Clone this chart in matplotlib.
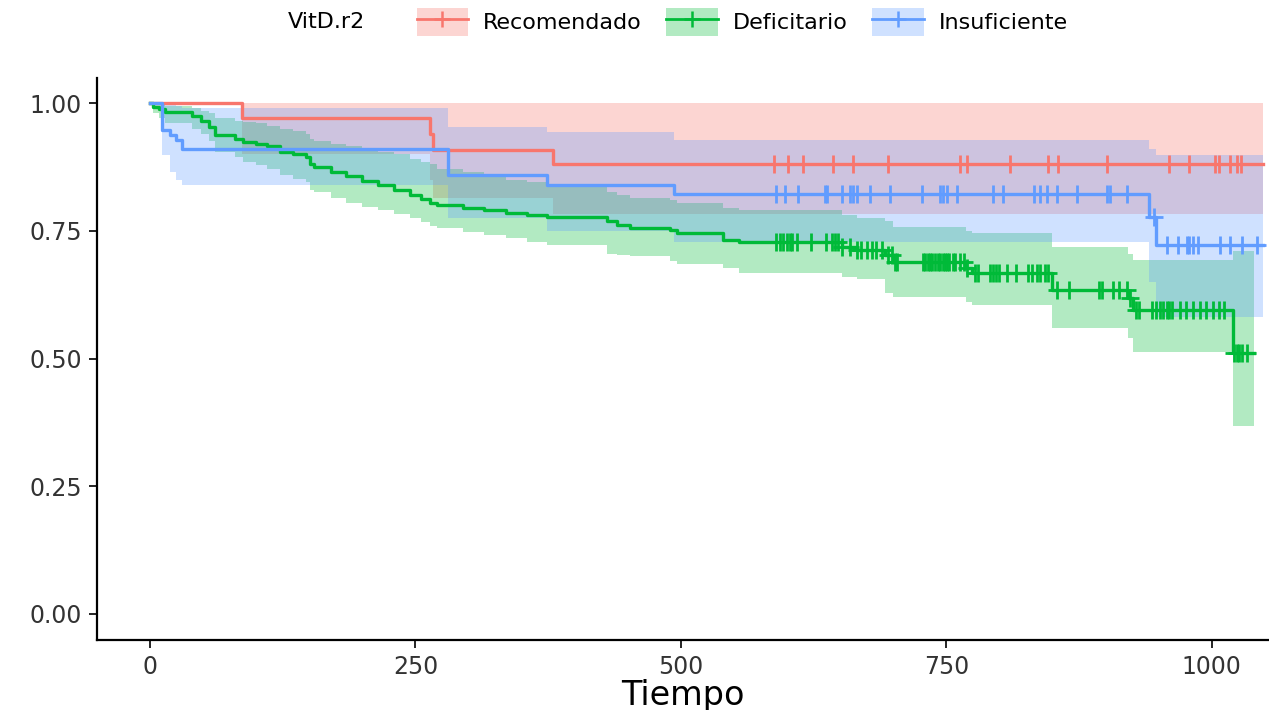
import numpy as np
import matplotlib
matplotlib.use("Agg")
import matplotlib.pyplot as plt
from matplotlib.patches import Patch
from matplotlib.lines import Line2D
from matplotlib.legend_handler import HandlerTuple

plt.rcParams['font.family'] = ['DejaVu Sans']

groups = ['Recomendado', 'Deficitario', 'Insuficiente']
colors = ['#F8766D', '#00BA38', '#619CFF']

# Recomendado
t_rec = [0, 87, 264, 267, 380]
s_rec = [1.0, 0.971, 0.94, 0.909, 0.880]
up_rec = [1.0, 1.0, 1.0, 1.0, 1.0]
lo_rec = [1.0, 0.90, 0.85, 0.815, 0.782]
cens_rec = [588, 601, 615, 643, 662, 695, 763, 770, 810, 846, 855, 901,
            960, 979, 1003, 1007, 1017, 1024, 1028]
end_rec = 1048

# Deficitario
t_def = [0, 3, 8, 14, 40, 48, 56, 61, 80, 88,
         100, 110, 122, 135, 147, 151, 154, 170, 185, 200,
         215, 230, 245, 255, 264, 270, 295, 315, 335, 355,
         374, 430, 440, 452, 490, 496, 540, 555, 652, 666,
         692, 700, 769, 774, 850, 921, 926, 1020]
s_def = [1.0, 0.993, 0.988, 0.983, 0.975, 0.965, 0.954, 0.937, 0.93, 0.924,
         0.92, 0.915, 0.905, 0.90, 0.895, 0.88, 0.875, 0.866, 0.857, 0.848,
         0.839, 0.83, 0.82, 0.812, 0.804, 0.80, 0.795, 0.79, 0.785, 0.78,
         0.777, 0.77, 0.762, 0.755, 0.751, 0.745, 0.732, 0.728, 0.718, 0.712,
         0.703, 0.689, 0.677, 0.668, 0.634, 0.618, 0.595, 0.51]
up_def = [1.0, 1.0, 1.0, 0.995, 0.99, 0.985, 0.98, 0.97, 0.965, 0.962,
          0.96, 0.955, 0.95, 0.945, 0.94, 0.93, 0.925, 0.92, 0.915, 0.91,
          0.905, 0.90, 0.89, 0.885, 0.88, 0.87, 0.865, 0.86, 0.85, 0.845,
          0.835, 0.825, 0.82, 0.815, 0.81, 0.805, 0.795, 0.79, 0.78, 0.775,
          0.77, 0.757, 0.75, 0.745, 0.719, 0.705, 0.693, 0.71]
lo_def = [1.0, 0.98, 0.97, 0.96, 0.95, 0.94, 0.925, 0.905, 0.895, 0.885,
          0.878, 0.87, 0.86, 0.852, 0.845, 0.83, 0.825, 0.815, 0.805, 0.797,
          0.79, 0.783, 0.775, 0.768, 0.76, 0.755, 0.748, 0.742, 0.735, 0.728,
          0.722, 0.705, 0.703, 0.70, 0.69, 0.685, 0.677, 0.667, 0.66, 0.655,
          0.628, 0.62, 0.61, 0.605, 0.56, 0.54, 0.513, 0.367]
cens_def = [590, 593, 596, 600, 603, 605, 609, 623, 637, 642, 645, 648, 652,
            659, 666, 670, 675, 680, 684, 689, 695, 699, 702, 704,
            728, 730, 733, 735, 737, 739, 742, 744, 747, 749, 751, 753, 756,
            758, 763, 767, 770, 777, 780, 791, 794, 797, 800, 807, 816, 827,
            831, 835, 838, 843, 846, 854, 866, 894, 897, 907, 913, 920, 923,
            929, 932, 944, 948, 951, 954, 958, 960, 963, 970, 976, 982, 989,
            995, 1001, 1007, 1012, 1021, 1024, 1026, 1029, 1033]
end_def = 1040

# Insuficiente
t_ins = [0, 11, 19, 24, 30, 281, 374, 494, 941, 948]
s_ins = [1.0, 0.947, 0.937, 0.928, 0.911, 0.859, 0.840, 0.822, 0.777, 0.722]
up_ins = [1.0, 1.0, 0.998, 0.995, 0.99, 0.954, 0.943, 0.928, 0.91, 0.898]
lo_ins = [1.0, 0.898, 0.866, 0.85, 0.84, 0.775, 0.75, 0.728, 0.65, 0.582]
cens_ins = [590, 598, 610, 636, 638, 652, 659, 662, 666, 678, 697, 727, 744,
            747, 751, 760, 794, 803, 833, 838, 845, 854, 873, 901, 904, 920,
            946, 958, 968, 977, 979, 982, 987, 1008, 1017, 1029, 1043]
end_ins = 1048

series = [
    (t_rec, s_rec, up_rec, lo_rec, cens_rec, end_rec),
    (t_def, s_def, up_def, lo_def, cens_def, end_def),
    (t_ins, s_ins, up_ins, lo_ins, cens_ins, end_ins),
]

fig = plt.figure(figsize=(12.69, 7.10), dpi=100)
ax = fig.add_axes([0.0764, 0.0986, 0.9236, 0.7915])

# confidence ribbons first, curves on top
for (t, s, up, lo, cens, end), col in zip(series, colors):
    tx = np.array(t + [end], dtype=float)
    ux = np.array(up + [up[-1]])
    lx = np.array(lo + [lo[-1]])
    ax.fill_between(tx, lx, ux, step='post', color=col, alpha=0.3,
                    linewidth=0, zorder=1)

for (t, s, up, lo, cens, end), col in zip(series, colors):
    tx = np.array(t + [end], dtype=float)
    sx = np.array(s + [s[-1]])
    ax.step(tx, sx, where='post', color=col, lw=2.4, zorder=3)
    idx = np.searchsorted(t, cens, side='right') - 1
    ax.plot(cens, np.array(s)[idx], ls='none', marker='+', ms=13, mew=2.0,
            color=col, zorder=4)

ax.set_xlim(-50, 1054)
ax.set_ylim(-0.051, 1.049)
ax.set_xticks([0, 250, 500, 750, 1000])
ax.set_yticks([0, 0.25, 0.5, 0.75, 1.0])
ax.set_yticklabels(['0.00', '0.25', '0.50', '0.75', '1.00'])
ax.tick_params(labelsize=17, labelcolor='#333333', color='black',
               length=6, width=1.2, pad=5)
for side in ['top', 'right']:
    ax.spines[side].set_visible(False)
for side in ['left', 'bottom']:
    ax.spines[side].set_linewidth(1.6)
ax.set_xlabel('Tiempo', fontsize=24, color='black', labelpad=0)

handles = [(Patch(facecolor=c, alpha=0.3, edgecolor='none'),
            Line2D([], [], color=c, lw=2.0, marker='+', ms=12, mew=1.8))
           for c in colors]
fig.legend(handles, groups, loc='center', bbox_to_anchor=(0.585, 0.969),
           ncol=3, frameon=False, fontsize=16, handlelength=2.3,
           handleheight=1.5, handletextpad=0.7, columnspacing=1.1,
           handler_map={tuple: HandlerTuple(ndivide=1)})
fig.text(365 / 1269, 0.969, 'VitD.r2', ha='right', va='center',
         fontsize=16, color='black')

fig.savefig('out.png', dpi=100)
